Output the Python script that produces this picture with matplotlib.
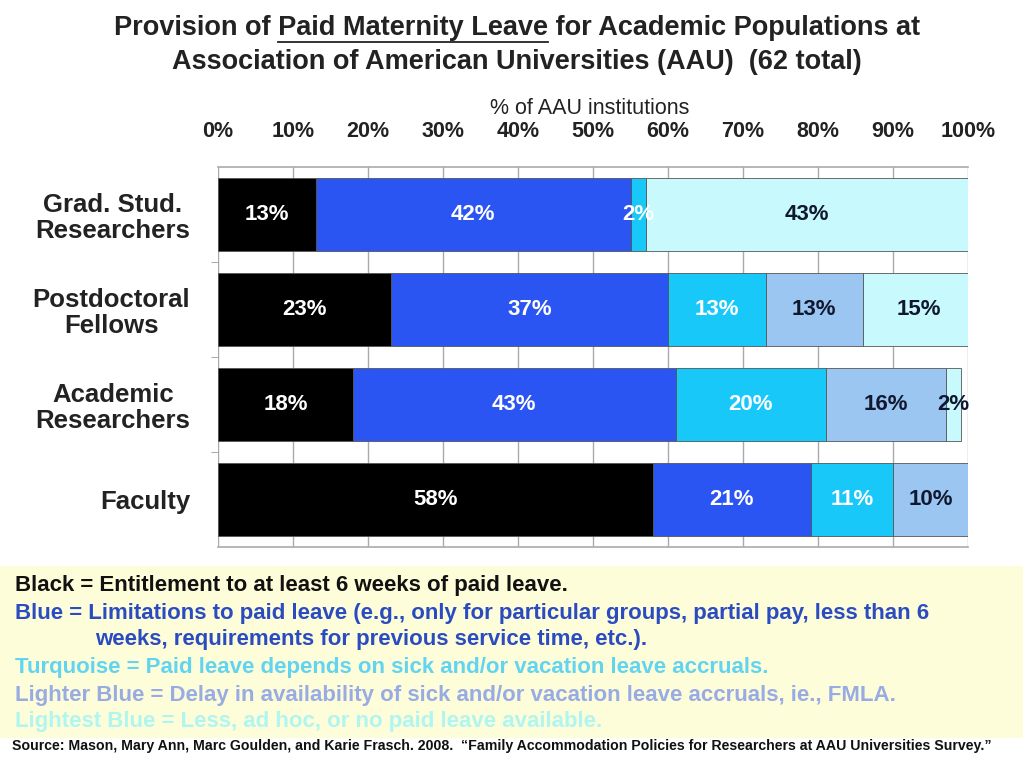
import matplotlib
matplotlib.use("Agg")
import matplotlib.pyplot as plt
from matplotlib.text import Text
import numpy as np

plt.rcParams["font.family"] = ["Liberation Sans", "DejaVu Sans"]

# data (top row first)
groups = ["Grad. Stud.\nResearchers", "Postdoctoral\nFellows", "Academic\nResearchers", "Faculty"]
entitlement = [13, 23, 18, 58]
limitations = [42, 37, 43, 21]
sick_accrual = [2, 13, 20, 11]
delay_fmla = [0, 13, 16, 10]
no_leave = [43, 15, 2, 0]

series = [entitlement, limitations, sick_accrual, delay_fmla, no_leave]
colors = ["#000000", "#2b55f2", "#18c8f8", "#9cc6f2", "#c8f9fd"]
txt_colors = ["white", "white", "white", "#101830", "#101830"]

ticks = list(range(0, 101, 10))
tick_labels = [f"{t}%" for t in ticks]

legend_lines = [
    ("Black = Entitlement to at least 6 weeks of paid leave.", "#111111", 0),
    ("Blue = Limitations to paid leave (e.g., only for particular groups, partial pay, less than 6", "#2a4cc0", 0),
    ("weeks, requirements for previous service time, etc.).", "#2a4cc0", 1),
    ("Turquoise = Paid leave depends on sick and/or vacation leave accruals.", "#62d4f0", 0),
    ("Lighter Blue = Delay in availability of sick and/or vacation leave accruals, ie., FMLA.", "#98abe2", 0),
    ("Lightest Blue = Less, ad hoc, or no paid leave available.", "#b0f6f0", 0),
]

fig = plt.figure(figsize=(10.23, 7.58), dpi=100, facecolor="white")
ax = fig.add_axes([218 / 1023, 1 - 547 / 758, 750 / 1023, 380 / 758])

y = np.arange(len(groups))
left = np.zeros(len(groups))
for vals, c, tc in zip(series, colors, txt_colors):
    vals = np.array(vals, dtype=float)
    ax.barh(y, vals, left=left, height=0.76, color=c, edgecolor="#555555", lw=0.6, zorder=2)
    for yi, l, v in zip(y, left, vals):
        if v > 0:
            ax.text(l + v / 2, yi, f"{int(v)}%", ha="center", va="center", color=tc,
                    fontsize=16, fontweight="bold", zorder=3, clip_on=False)
    left += vals

ax.set_xlim(0, 100)
ax.set_ylim(len(groups) - 0.5, -0.5)
ax.set_xticks(ticks)
ax.set_xticklabels(tick_labels)
ax.xaxis.tick_top()
ax.tick_params(axis="x", length=0, pad=18, labelsize=15.5, labelcolor="#222222")
for lab in ax.get_xticklabels():
    lab.set_fontweight("bold")
ax.set_yticks(y)
ax.set_yticklabels(groups, fontsize=18.5, fontweight="bold", color="#222222",
                   linespacing=1.1, multialignment="center")
ax.tick_params(axis="y", length=0, pad=20)
ax.set_yticks([0.5, 1.5, 2.5], minor=True)
ax.tick_params(axis="y", which="minor", length=5, color="#999999")
ax.grid(axis="x", color="#aaaaaa", lw=1, zorder=0)
for s in ["left", "right"]:
    ax.spines[s].set_visible(False)
for s in ["top", "bottom"]:
    ax.spines[s].set_color("#aaaaaa")
    ax.spines[s].set_linewidth(1.2)

fig.text(590 / 1023, 1 - 108 / 758, "% of AAU institutions", ha="center", va="center",
         fontsize=15.5, color="#222222")

# title with underlined phrase
TS = 19.5
t1 = fig.text(517 / 1023, 1 - 28 / 758,
              "Provision of Paid Maternity Leave for Academic Populations at",
              ha="center", va="center", fontsize=TS, fontweight="bold", color="#222222")
fig.text(517 / 1023, 1 - 62 / 758,
         "Association of American Universities (AAU)  (62 total)",
         ha="center", va="center", fontsize=TS, fontweight="bold", color="#222222")
fig.canvas.draw()
r = fig.canvas.get_renderer()
bb = t1.get_window_extent(r)


def width(s):
    tt = Text(0, 0, s, fontsize=TS, fontweight="bold", figure=fig)
    return tt.get_window_extent(r).width


x0 = bb.x0 + width("Provision of ")
x1 = x0 + width("Paid Maternity Leave")
yl = bb.y0 - 1
fig.add_artist(plt.Line2D([x0 / fig.bbox.width, x1 / fig.bbox.width],
                          [yl / fig.bbox.height] * 2, color="#222222", lw=1.3))

# explanatory box
fig.patches.append(plt.Rectangle((0, 1 - 738 / 758), 1, 172 / 758, transform=fig.transFigure,
                                 facecolor="#fdfdda", edgecolor="none", zorder=0))
ys = [585, 614, 640, 667, 695, 722]
for (txt, c, indent), yy in zip(legend_lines, ys):
    fig.text((15 + 80 * indent) / 1023, 1 - yy / 758, txt, ha="left", va="center",
             fontsize=16, fontweight="bold", color=c)

fig.text(12 / 1023, 1 - 746 / 758,
         "Source: Mason, Mary Ann, Marc Goulden, and Karie Frasch. 2008.  \u201cFamily Accommodation "
         "Policies for Researchers at AAU Universities Survey.\u201d",
         ha="left", va="center", fontsize=10.2, fontweight="bold", color="#111111")

fig.savefig("out.png", dpi=100)
